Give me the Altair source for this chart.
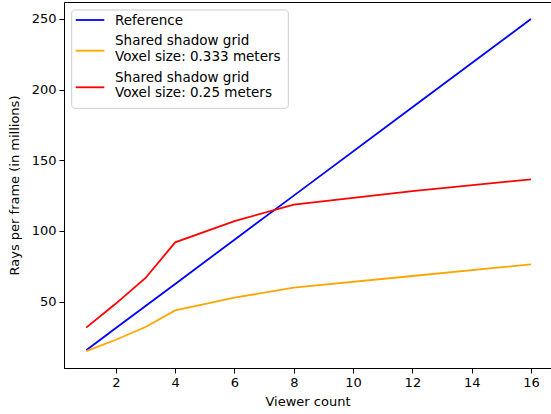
import altair as alt
import pandas as pd

# Viewer counts sampled along the x axis
viewers = [1, 2, 3, 4, 6, 8, 12, 16]

# Rays per frame, in millions
reference = [15.6, 31.3, 46.9, 62.5, 93.8, 125.0, 187.5, 250.0]
grid_0333 = [15.0, 23.0, 32.0, 43.8, 52.8, 59.9, 68.1, 76.4]
grid_025 = [31.6, 48.6, 66.7, 91.9, 107.0, 118.6, 128.2, 136.5]

series_names = [
    "Reference",
    "Shared shadow grid\nVoxel size: 0.333 meters",
    "Shared shadow grid\nVoxel size: 0.25 meters",
]
series_colors = ["#0000ff", "#ffa500", "#ff0000"]

rows = []
for name, values in zip(series_names, [reference, grid_0333, grid_025]):
    for v, r in zip(viewers, values):
        rows.append({"viewers": v, "rays": r, "series": name})
df = pd.DataFrame(rows)

font = "DejaVu Sans"

lines = (
    alt.Chart(df)
    .mark_line(strokeWidth=1.8, clip=True)
    .encode(
        x=alt.X(
            "viewers:Q",
            scale=alt.Scale(domain=[0.25, 16.675], nice=False, zero=False),
            axis=alt.Axis(values=[2, 4, 6, 8, 10, 12, 14, 16], title="Viewer count"),
        ),
        y=alt.Y(
            "rays:Q",
            scale=alt.Scale(domain=[3, 262], nice=False, zero=False),
            axis=alt.Axis(values=[50, 100, 150, 200, 250], title="Rays per frame (in millions)"),
        ),
        color=alt.Color(
            "series:N",
            scale=alt.Scale(domain=series_names, range=series_colors),
            legend=None,
        ),
        order="viewers:Q",
    )
)

# Legend drawn in the upper-left corner of the plot area (pixel offsets)
blank = alt.Data(values=[{}])
legend_layers = [
    alt.Chart(blank)
    .mark_rect(fill="#ffffff", fillOpacity=0.8, stroke="#cccccc", strokeWidth=1, cornerRadius=3)
    .encode(x=alt.value(7.7), x2=alt.value(224.3), y=alt.value(8), y2=alt.value(106.3))
]
symbol_y = [18, 48.7, 85.3]
text_y = [[18.5], [39.3, 55.3], [75.7, 91.3]]
for name, color, sy, ty in zip(series_names, series_colors, symbol_y, text_y):
    legend_layers.append(
        alt.Chart(blank)
        .mark_rule(stroke=color, strokeWidth=1.8)
        .encode(x=alt.value(11.7), x2=alt.value(40.3), y=alt.value(sy))
    )
    for text_line, y in zip(name.split("\n"), ty):
        legend_layers.append(
            alt.Chart(blank)
            .mark_text(align="left", baseline="middle", font=font, fontSize=13.5, color="#000000")
            .encode(x=alt.value(51), y=alt.value(y), text=alt.value(text_line))
        )

chart = (
    alt.layer(lines, *legend_layers)
    .properties(
        width=487,
        height=366,
        autosize=alt.AutoSizeParams(type="none"),
        padding={"left": 64, "top": 2, "right": 0, "bottom": 46},
    )
    .configure_view(stroke="#000000", strokeWidth=1)
    .configure_axis(
        grid=False,
        domainColor="#000000",
        domainWidth=1,
        tickColor="#000000",
        tickSize=5,
        tickWidth=1,
        labelFont=font,
        labelFontSize=13,
        labelColor="#000000",
        labelPadding=3,
        titleFont=font,
        titleFontSize=13,
        titleFontWeight="normal",
        titleColor="#000000",
    )
    .configure_axisX(titlePadding=6)
    .configure_axisY(titlePadding=10)
)

chart.save("out.html", embed_options={"renderer": "svg", "actions": False})
